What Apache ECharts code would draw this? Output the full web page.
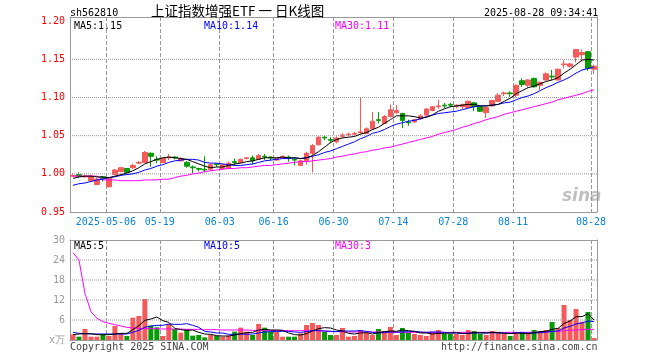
<!DOCTYPE html>
<html><head><meta charset="utf-8">
<script src="https://cdn.jsdelivr.net/npm/echarts@6/dist/echarts.min.js"></script>
<style>html,body{margin:0;padding:0;background:#fff}#c{width:660px;height:360px}</style>
</head><body><div id="c"></div>
<script>
const dates = ['2025-04-23','2025-04-24','2025-04-25','2025-04-28','2025-04-29','2025-04-30',
'2025-05-06','2025-05-07','2025-05-08','2025-05-09',
'2025-05-12','2025-05-13','2025-05-14','2025-05-15','2025-05-16',
'2025-05-19','2025-05-20','2025-05-21','2025-05-22','2025-05-23',
'2025-05-26','2025-05-27','2025-05-28','2025-05-29','2025-05-30',
'2025-06-03','2025-06-04','2025-06-05','2025-06-06',
'2025-06-09','2025-06-10','2025-06-11','2025-06-12','2025-06-13',
'2025-06-16','2025-06-17','2025-06-18','2025-06-19','2025-06-20',
'2025-06-23','2025-06-24','2025-06-25','2025-06-26','2025-06-27',
'2025-06-30',
'2025-07-01','2025-07-02','2025-07-03','2025-07-04',
'2025-07-07','2025-07-08','2025-07-09','2025-07-10','2025-07-11',
'2025-07-14','2025-07-15','2025-07-16','2025-07-17','2025-07-18',
'2025-07-21','2025-07-22','2025-07-23','2025-07-24','2025-07-25',
'2025-07-28','2025-07-29','2025-07-30','2025-07-31','2025-08-01',
'2025-08-04','2025-08-05','2025-08-06','2025-08-07','2025-08-08',
'2025-08-11','2025-08-12','2025-08-13','2025-08-14','2025-08-15',
'2025-08-18','2025-08-19','2025-08-20','2025-08-21','2025-08-22',
'2025-08-25','2025-08-26','2025-08-27','2025-08-28'];

const tickDates  = ['2025-05-06','2025-05-19','2025-06-03','2025-06-16','2025-06-30','2025-07-14','2025-07-28','2025-08-11','2025-08-28'];
const tickLabels = ['2025-05-06','05-19','06-03','06-16','06-30','07-14','07-28','08-11','08-28'];
const priceGridValues = [1.00, 1.05, 1.10, 1.15];
const volGridValues = [6, 12, 18, 24];
const PRICE_MIN = 0.95, PRICE_MAX = 1.2055, VOL_MIN = 0, VOL_MAX = 30;

const openPx = [0.997,0.999,0.996,0.991,0.986,0.996,0.983,0.999,1.003,1.007,
1.008,1.014,1.015,1.027,1.019,1.015,1.021,1.022,1.017,1.015,
1.009,1.007,1.006,1.006,1.013,1.007,1.007,1.016,1.015,1.020,
1.021,1.019,1.023,1.022,1.018,1.021,1.022,1.019,1.011,1.017,
1.027,1.038,1.048,1.045,1.042,1.049,1.051,1.052,1.054,1.053,
1.059,1.071,1.066,1.075,1.080,1.079,1.068,1.068,1.072,1.077,
1.083,1.088,1.090,1.091,1.088,1.088,1.087,1.093,1.088,1.080,
1.089,1.095,1.105,1.106,1.103,1.122,1.116,1.125,1.116,1.123,
1.128,1.123,1.143,1.141,1.153,1.156,1.160,1.137];

const closePx = [0.998,0.997,0.997,0.997,0.993,0.994,0.994,1.005,1.008,1.002,
1.011,1.015,1.028,1.023,1.018,1.020,1.022,1.021,1.020,1.010,
1.008,1.006,1.005,1.012,1.012,1.012,1.014,1.015,1.019,1.021,
1.017,1.024,1.022,1.021,1.020,1.023,1.021,1.018,1.017,1.027,
1.037,1.048,1.047,1.044,1.047,1.051,1.052,1.053,1.055,1.059,
1.069,1.070,1.075,1.084,1.083,1.070,1.067,1.071,1.076,1.085,
1.088,1.089,1.089,1.090,1.090,1.091,1.095,1.088,1.082,1.087,
1.096,1.103,1.106,1.105,1.116,1.117,1.123,1.114,1.120,1.131,
1.127,1.137,1.144,1.144,1.163,1.159,1.138,1.141];

const lowPx = [0.996,0.995,0.995,0.990,0.985,0.990,0.982,0.999,1.002,1.001,
1.006,1.013,1.015,1.009,1.014,1.014,1.018,1.019,1.016,1.008,
1.001,1.003,1.002,1.004,1.009,1.005,1.006,1.010,1.014,1.019,
1.012,1.018,1.018,1.017,1.017,1.020,1.016,1.011,1.010,1.012,
1.002,1.037,1.044,1.040,1.040,1.047,1.049,1.050,1.052,1.052,
1.058,1.066,1.065,1.074,1.079,1.060,1.063,1.067,1.071,1.076,
1.082,1.085,1.086,1.087,1.086,1.085,1.086,1.082,1.081,1.073,
1.088,1.094,1.102,1.101,1.100,1.114,1.113,1.113,1.110,1.122,
1.123,1.122,1.138,1.139,1.146,1.147,1.135,1.131];

const highPx = [1.000,1.002,0.999,0.998,0.995,0.997,0.996,1.006,1.009,1.007,
1.013,1.017,1.030,1.028,1.023,1.021,1.026,1.023,1.022,1.017,
1.011,1.008,1.023,1.013,1.014,1.013,1.016,1.020,1.020,1.022,
1.024,1.026,1.026,1.023,1.021,1.024,1.024,1.022,1.018,1.029,
1.039,1.050,1.050,1.048,1.049,1.053,1.054,1.055,1.100,1.061,
1.081,1.081,1.077,1.091,1.090,1.080,1.071,1.072,1.078,1.086,
1.089,1.097,1.093,1.093,1.091,1.092,1.096,1.094,1.089,1.088,
1.097,1.106,1.108,1.108,1.117,1.125,1.124,1.126,1.121,1.133,
1.136,1.138,1.149,1.145,1.163,1.163,1.161,1.143];

const ma5 = [0.994,0.996,0.997,0.997,0.996,0.996,0.995,0.997,0.999,1.001,
1.004,1.008,1.013,1.016,1.019,1.021,1.022,1.021,1.020,1.019,
1.016,1.013,1.010,1.008,1.009,1.009,1.011,1.013,1.014,1.016,
1.017,1.019,1.021,1.021,1.021,1.022,1.021,1.021,1.020,1.021,
1.024,1.029,1.035,1.041,1.045,1.047,1.048,1.049,1.052,1.054,
1.058,1.061,1.066,1.071,1.076,1.076,1.076,1.075,1.073,1.074,
1.077,1.082,1.085,1.088,1.089,1.090,1.091,1.091,1.089,1.089,
1.090,1.091,1.095,1.099,1.105,1.109,1.113,1.115,1.118,1.121,
1.123,1.126,1.132,1.137,1.143,1.149,1.150,1.149];

const ma10 = [0.985,0.987,0.988,0.990,0.992,0.993,0.995,0.996,0.998,0.999,
1.000,1.002,1.005,1.007,1.010,1.012,1.015,1.017,1.018,1.019,
1.019,1.018,1.015,1.014,1.014,1.013,1.012,1.011,1.011,1.012,
1.013,1.015,1.017,1.018,1.019,1.020,1.020,1.021,1.020,1.021,
1.023,1.025,1.028,1.030,1.033,1.036,1.039,1.042,1.046,1.049,
1.053,1.055,1.058,1.062,1.065,1.067,1.069,1.070,1.072,1.075,
1.077,1.079,1.080,1.081,1.082,1.084,1.086,1.088,1.089,1.089,
1.090,1.091,1.093,1.094,1.097,1.100,1.102,1.105,1.109,1.113,
1.116,1.120,1.123,1.127,1.132,1.136,1.138,1.140];

const ma30 = [0.997,0.997,0.997,0.997,0.997,0.992,0.992,0.992,0.991,0.991,
0.991,0.991,0.992,0.992,0.992,0.993,0.993,0.995,0.997,0.998,
1.000,1.001,1.003,1.004,1.005,1.006,1.007,1.007,1.008,1.008,
1.009,1.010,1.011,1.011,1.012,1.013,1.014,1.015,1.016,1.016,
1.017,1.018,1.019,1.020,1.022,1.023,1.025,1.026,1.028,1.029,
1.031,1.032,1.034,1.035,1.037,1.039,1.041,1.043,1.045,1.047,
1.049,1.052,1.054,1.056,1.058,1.061,1.063,1.066,1.068,1.071,
1.073,1.075,1.078,1.080,1.082,1.084,1.086,1.088,1.090,1.092,
1.094,1.097,1.099,1.101,1.103,1.105,1.108,1.110];

const vol = [1.7,1.0,3.3,1.0,1.0,1.5,1.2,4.2,2.0,1.2,
6.7,7.2,12.3,4.3,3.8,1.2,4.8,3.3,2.2,3.2,
1.3,1.5,0.8,1.5,1.2,1.0,1.3,2.5,3.7,2.5,
1.5,4.8,3.7,2.5,2.5,1.0,1.0,1.0,2.0,4.5,
5.1,4.5,2.5,1.5,1.5,3.6,1.0,1.2,3.0,2.2,
1.5,3.3,2.7,3.9,1.5,3.6,2.2,1.8,1.5,1.2,
2.5,3.0,1.8,1.8,1.8,1.5,3.0,2.7,1.8,1.5,
2.7,2.4,1.8,1.2,2.4,2.3,2.0,3.0,2.7,3.0,
5.4,3.6,10.5,6.0,9.3,5.5,8.4,0.6];

const volMa5 = [1.6,1.8,1.9,1.9,1.6,1.6,1.6,1.8,2.0,2.0,
3.1,4.3,5.9,6.3,6.9,5.8,5.3,3.5,3.1,2.9,
3.0,2.3,1.8,1.7,1.3,1.2,1.2,1.5,1.9,2.2,
2.3,3.0,3.2,3.0,3.0,2.9,2.1,1.6,1.5,1.9,
2.7,3.4,3.7,3.6,3.0,2.7,2.0,1.8,2.1,2.2,
1.8,2.2,2.5,2.7,2.6,3.0,2.8,2.6,2.1,2.1,
1.8,2.0,2.0,2.1,2.2,2.0,2.0,2.2,2.2,2.1,
2.3,2.2,2.0,1.9,2.1,2.0,1.9,2.2,2.5,2.6,
3.2,3.5,5.0,5.7,7.0,7.0,7.9,6.0];

const volMa10 = [2.3,2.0,1.9,1.8,1.8,1.8,1.8,1.8,1.8,1.8,
2.3,2.9,3.8,4.2,4.4,4.4,4.8,4.7,4.7,4.9,
4.4,3.8,2.6,2.4,2.1,2.1,1.7,1.7,1.8,1.7,
1.8,2.1,2.4,2.5,2.6,2.6,2.6,2.4,2.3,2.5,
2.8,2.8,2.7,2.6,2.5,2.7,2.7,2.7,2.8,2.6,
2.3,2.1,2.2,2.4,2.4,2.4,2.5,2.6,2.4,2.3,
2.4,2.4,2.3,2.1,2.1,1.9,2.0,2.1,2.1,2.1,
2.2,2.1,2.1,2.0,2.1,2.2,2.1,2.1,2.2,2.4,
2.6,2.7,3.6,4.1,4.8,5.1,5.7,5.5];

const volMa30 = [26.2,24.0,14.0,8.5,6.5,5.5,5.0,4.6,4.2,3.8,
3.6,3.5,3.4,3.4,3.4,3.3,3.3,3.3,3.3,3.2,
3.2,3.2,3.1,3.1,3.1,3.0,3.0,3.0,3.0,3.0,
2.9,2.9,2.9,2.9,2.9,2.9,2.8,2.8,2.8,2.8,
2.8,2.8,2.7,2.6,2.5,2.5,2.4,2.4,2.4,2.4,
2.4,2.4,2.4,2.4,2.3,2.3,2.3,2.3,2.3,2.3,
2.3,2.3,2.3,2.3,2.3,2.3,2.3,2.3,2.3,2.3,
2.3,2.3,2.3,2.3,2.3,2.3,2.3,2.3,2.3,2.4,
2.5,2.6,2.8,2.9,3.0,3.1,3.2,3.2];

const priceLegend = ['MA5:1.15','MA10:1.14','MA30:1.11'];
const volLegend = ['MA5:5','MA10:5','MA30:3'];

const MONO = '"DejaVu Sans Mono", monospace';
const UP = '#f65959', DOWN = '#079b07';
const C5 = '#000000', C10 = '#0000ff', C30 = '#ff00ff';
const GRIDC = '#999999';
const BORDER = '#999999';

const candle = dates.map((d, i) => [openPx[i], closePx[i], lowPx[i], highPx[i]]);
const volData = vol.map((v, i) => ({ value: v, itemStyle: { color: closePx[i] >= openPx[i] ? UP : DOWN } }));
const tickIdx = tickDates.map(d => dates.indexOf(d));
const isTick = (i) => tickIdx.indexOf(i) >= 0;

const borderLine = { show: true, onZero: false, lineStyle: { color: BORDER, width: 1 } };

function ttl(left, top, text, color, font, size, extra) {
  return Object.assign({ left: left, top: top, text: text, padding: 0, itemGap: 0,
    textStyle: { color: color, fontFamily: font || MONO, fontSize: size || 10, fontWeight: 'normal' } }, extra || {});
}
function frameX(g) {
  return { type: 'category', gridIndex: g, data: dates, position: 'top', boundaryGap: true,
    axisLine: borderLine, axisTick: { show: false }, axisLabel: { show: false }, splitLine: { show: false } };
}
function frameY(g) {
  return { type: 'value', gridIndex: g, position: 'right', min: 0, max: 1,
    axisLine: borderLine, axisTick: { show: false }, axisLabel: { show: false }, splitLine: { show: false } };
}
function slotX(g) {
  // hidden linear axis over the category slots: value k = left edge of slot k
  return { type: 'value', gridIndex: g, min: 0, max: dates.length, show: false,
    axisLine: { show: false }, axisTick: { show: false }, axisLabel: { show: false }, splitLine: { show: false } };
}
function vLines(xIdx, yIdx, y0, y1) {
  const d = [];
  tickIdx.forEach(k => { d.push([k, y0], [k, y1], [k, '-']); });
  return { type: 'line', xAxisIndex: xIdx, yAxisIndex: yIdx, data: d, z: 3, silent: true,
    symbol: 'none', showSymbol: false, connectNulls: false, animation: false, clip: false,
    lineStyle: { color: GRIDC, width: 1, type: 'dashed', opacity: 1 }, itemStyle: { color: GRIDC } };
}
function hLines(xIdx, yIdx, values) {
  const d = [];
  values.forEach(v => { d.push([0, v], [dates.length, v], [dates.length, '-']); });
  return { type: 'line', xAxisIndex: xIdx, yAxisIndex: yIdx, data: d, z: 3, silent: true,
    symbol: 'none', showSymbol: false, connectNulls: false, animation: false, clip: false,
    lineStyle: { color: GRIDC, width: 1, type: 'dotted', opacity: 1 }, itemStyle: { color: GRIDC } };
}

const chart = echarts.init(document.getElementById('c'));
chart.setOption({
  animation: false,
  title: [
    ttl(70, 8, 'sh562810', '#000'),
    ttl(151, 4, '上证指数增强ETF 一 日K线图', '#000', '"Noto Sans CJK SC", sans-serif', 13.5),
    ttl(484, 8, '2025-08-28 09:34:41', '#000'),
    ttl(74, 21, priceLegend[0], C5),
    ttl(204, 21, priceLegend[1], C10),
    ttl(335, 21, priceLegend[2], C30),
    ttl(74, 241, volLegend[0], C5),
    ttl(204, 241, volLegend[1], C10),
    ttl(335, 241, volLegend[2], C30),
    ttl(70, 342, 'Copyright 2025 SINA.COM', '#444'),
    ttl(441, 342, 'http://finance.sina.com.cn', '#444'),
    ttl(562, 188, 'sina', 'rgba(150,150,150,0.6)', '"DejaVu Sans", sans-serif', 17,
      { textStyle: { color: 'rgba(150,150,150,0.6)', fontFamily: '"DejaVu Sans", sans-serif', fontSize: 17, fontWeight: 'bold', fontStyle: 'italic' } })
  ],
  grid: [
    { left: 70, right: 63, top: 17, height: 195 },
    { left: 70, right: 63, top: 240, height: 100 }
  ],
  xAxis: [
    { type: 'category', gridIndex: 0, data: dates, boundaryGap: true,
      axisLine: borderLine, axisTick: { show: false },
      axisLabel: { interval: (i) => isTick(i), formatter: (v) => tickLabels[tickDates.indexOf(v)] || '',
        color: '#0a84d8', fontFamily: MONO, fontSize: 10, margin: 5, padding: [0, 6, 0, 0] },
      splitLine: { show: true, interval: (i) => isTick(i), lineStyle: { color: GRIDC, type: 'dashed' } } },
    { type: 'category', gridIndex: 1, data: dates, boundaryGap: true,
      axisLine: borderLine, axisTick: { show: false }, axisLabel: { show: false },
      splitLine: { show: true, interval: (i) => isTick(i), lineStyle: { color: GRIDC, type: 'dashed' } } },
    frameX(0), frameX(1), slotX(0), slotX(1)
  ],
  yAxis: [
    { type: 'value', gridIndex: 0, min: PRICE_MIN, max: PRICE_MAX, interval: 0.05,
      axisLine: borderLine, axisTick: { show: false },
      axisLabel: { color: '#ff0000', fontFamily: MONO, fontSize: 10, margin: 5, showMaxLabel: false,
        formatter: (v) => v.toFixed(2) },
      splitLine: { show: false } },
    { type: 'value', gridIndex: 1, min: VOL_MIN, max: VOL_MAX, interval: 6,
      axisLine: borderLine, axisTick: { show: false },
      axisLabel: { color: '#999999', fontFamily: MONO, fontSize: 10, margin: 5,
        formatter: (v) => v === 0 ? 'x万' : String(v) },
      splitLine: { show: false } },
    frameY(0), frameY(1)
  ],
  series: [
    hLines(4, 0, priceGridValues),
    hLines(5, 1, volGridValues),
    { type: 'candlestick', xAxisIndex: 0, yAxisIndex: 0, data: candle, barWidth: 5, silent: true,
      itemStyle: { color: UP, color0: DOWN, borderColor: UP, borderColor0: DOWN, borderWidth: 1 } },
    { type: 'line', xAxisIndex: 0, yAxisIndex: 0, data: ma30, symbol: 'none', silent: true, z: 5,
      lineStyle: { color: C30, width: 1 }, itemStyle: { color: C30 } },
    { type: 'line', xAxisIndex: 0, yAxisIndex: 0, data: ma10, symbol: 'none', silent: true, z: 5,
      lineStyle: { color: C10, width: 1 }, itemStyle: { color: C10 } },
    { type: 'line', xAxisIndex: 0, yAxisIndex: 0, data: ma5, symbol: 'none', silent: true, z: 5,
      lineStyle: { color: C5, width: 1 }, itemStyle: { color: C5 } },
    { type: 'bar', xAxisIndex: 1, yAxisIndex: 1, data: volData, barWidth: 5, silent: true },
    { type: 'line', xAxisIndex: 1, yAxisIndex: 1, data: volMa30, symbol: 'none', silent: true, z: 5,
      lineStyle: { color: C30, width: 1 }, itemStyle: { color: C30 } },
    { type: 'line', xAxisIndex: 1, yAxisIndex: 1, data: volMa10, symbol: 'none', silent: true, z: 5,
      lineStyle: { color: C10, width: 1 }, itemStyle: { color: C10 } },
    { type: 'line', xAxisIndex: 1, yAxisIndex: 1, data: volMa5, symbol: 'none', silent: true, z: 5,
      lineStyle: { color: C5, width: 1 }, itemStyle: { color: C5 } }
  ]
});
</script>
</body></html>
